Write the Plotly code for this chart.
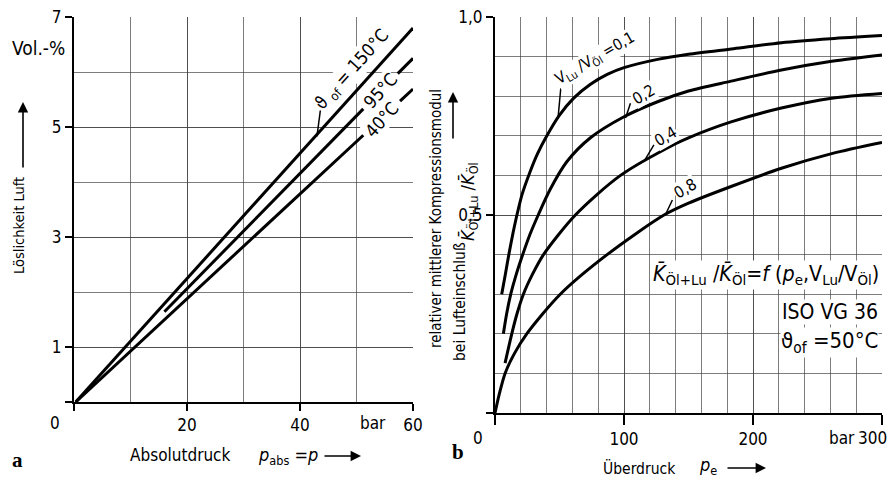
import plotly.graph_objects as go

W, H = 895, 481

# ---------------- data: panel a (solubility of air in oil) ----------------
p_abs_150 = [0.3, 60]
sol_150 = [0.0, 6.8]
p_abs_95 = [16, 51.2, None, 57.3, 60]
sol_95 = [1.64, 5.33, None, 5.97, 6.25]
p_abs_40 = [0.3, 51.2, None, 57.7, 60]
sol_40 = [0.0, 4.85, None, 5.47, 5.69]

xa_tickvals = [0, 20, 40, 60]
xa_ticktext = ["", "20", "40", "60"]
ya_tickvals = [0, 1, 3, 5, 7]
ya_ticktext = ["", "1", "3", "5", "7"]

# ---------------- data: panel b (relative bulk modulus) ----------------
pe_01 = [5.2, 8, 11, 14, 17, 21, 26.7, 33, 40.2, 50, 61, 74, 87, 100, 126, 150, 185, 222, 260, 300]
k_01 = [0.30, 0.35, 0.405, 0.455, 0.50, 0.552, 0.605, 0.655, 0.70, 0.752, 0.795, 0.83, 0.855,
        0.872, 0.893, 0.906, 0.920, 0.935, 0.945, 0.953]
pe_02 = [6.5, 9, 12.2, 16, 21.5, 27, 33.5, 42.8, 55.8, 74, 100, 126, 150, 183, 222, 261, 300]
k_02 = [0.20, 0.25, 0.30, 0.345, 0.40, 0.45, 0.50, 0.565, 0.635, 0.695, 0.748, 0.786, 0.813,
        0.838, 0.866, 0.888, 0.904]
pe_04 = [7.8, 13, 17, 22, 29, 37.6, 62.3, 97.3, 140, 150, 183, 222, 261, 300]
k_04 = [0.126, 0.20, 0.25, 0.30, 0.35, 0.40, 0.50, 0.60, 0.68, 0.695, 0.735, 0.77, 0.795, 0.807]
pe_08 = [0, 3.5, 7.8, 15, 24.6, 50.6, 86.9, 131, 150, 183, 222, 261, 300]
k_08 = [0, 0.05, 0.10, 0.15, 0.20, 0.30, 0.40, 0.50, 0.53, 0.572, 0.618, 0.655, 0.683]

xb_tickvals = [0, 100, 200, 300]
xb_ticktext = ["", "100", "200", ""]
yb_tickvals = [0, 0.5, 1.0]
yb_ticktext = ["", "0,5", "1,0"]

FONT = "DejaVu Sans Condensed, DejaVu Sans, sans-serif"
SERIF = "Liberation Serif, DejaVu Serif, serif"
GRID = "rgba(55,55,55,0.65)"
LW = 3
TICK = 17

fig = go.Figure()
for xs, ys in [(p_abs_150, sol_150), (p_abs_95, sol_95), (p_abs_40, sol_40)]:
    fig.add_trace(go.Scatter(x=xs, y=ys, mode="lines", xaxis="x", yaxis="y",
                             line=dict(color="black", width=LW), showlegend=False,
                             hoverinfo="skip", connectgaps=False))
for xs, ys in [(pe_01, k_01), (pe_02, k_02), (pe_04, k_04), (pe_08, k_08)]:
    fig.add_trace(go.Scatter(x=xs, y=ys, mode="lines", xaxis="x2", yaxis="y2",
                             line=dict(color="black", width=LW, shape="spline", smoothing=0.8),
                             showlegend=False, hoverinfo="skip"))


def axis_common():
    return dict(showline=True, linecolor="black", linewidth=2, ticks="outside",
                tickcolor="black", tickwidth=1.5, showgrid=True, gridcolor=GRID,
                gridwidth=1, zeroline=False, fixedrange=True, ticklabeloverflow="allow",
                tickfont=dict(family=FONT, size=TICK, color="black"))


xa = axis_common()
xa.update(domain=[74 / W, 413 / W], range=[0, 60], tickvals=xa_tickvals, ticktext=xa_ticktext,
          ticklen=7, anchor="y", minor=dict(dtick=10, showgrid=True, gridcolor=GRID, ticks=""))
ya = axis_common()
ya.update(domain=[1 - 402 / H, 1 - 17 / H], range=[0, 7], tickvals=ya_tickvals, ticktext=ya_ticktext,
          ticklen=7, anchor="x", minor=dict(dtick=1, showgrid=True, gridcolor=GRID, ticks=""))
xb = axis_common()
xb.update(domain=[495 / W, 882 / W], range=[0, 300], tickvals=xb_tickvals, ticktext=xb_ticktext,
          ticklen=10, anchor="y2", minor=dict(dtick=20, showgrid=True, gridcolor=GRID, ticks=""))
yb = axis_common()
yb.update(domain=[1 - 413 / H, 1 - 17 / H], range=[0, 1.0], tickvals=yb_tickvals, ticktext=yb_ticktext,
          ticklen=7, anchor="x2", minor=dict(dtick=0.1, showgrid=True, gridcolor=GRID, ticks=""))


def pa(x, y, text, size=17, family=FONT, xanchor="center", **kw):
    d = dict(x=x / W, y=1 - y / H, xref="paper", yref="paper", text=text, showarrow=False,
             xanchor=xanchor, yanchor="middle",
             font=dict(family=family, size=size, color="black"))
    d.update(kw)
    return d


def da(x, y, ax, text, angle, size=18):
    yref = "y" if ax == "x" else "y2"
    return dict(x=x, y=y, xref=ax, yref=yref, text=text, showarrow=False, textangle=angle,
                xanchor="center", yanchor="middle", bgcolor="white", borderpad=0,
                font=dict(family=FONT, size=size, color="black"))


def arrow(xh, yh, ax, ay):
    return dict(x=xh / W, y=1 - yh / H, xref="paper", yref="paper", text="", showarrow=True,
                ax=ax, ay=ay, arrowhead=2, arrowsize=1.3, arrowwidth=1.6, arrowcolor="black")


ann = [
    # panel a
    pa(38, 48, "Vol.-%", size=19),
    pa(55, 423, "0", size=TICK),
    pa(373, 423, "bar", size=TICK),
    pa(19, 226, "Löslichkeit Luft", size=14.5, textangle=-90),
    arrow(23, 102, 0, 67),
    pa(180, 455, "Absolutdruck", size=17),
    pa(256, 456, "<i>p</i><sub>abs</sub> =<i>p</i>", size=18, xanchor="left"),
    arrow(361, 456, -38, 0),
    pa(17, 460, "<b>a</b>", size=21, family=SERIF),
    da(49.2, 6.04, "x", "ϑ <sub>of</sub> = 150°C", -48),
    da(54.2, 5.67, "x", "95°C", -48),
    da(54.5, 5.13, "x", "40°C", -48),
    # panel b
    pa(478, 438, "0", size=TICK),
    pa(842, 438, "bar", size=TICK),
    pa(889, 438, "300", size=TICK, xanchor="right"),
    pa(436, 219, "relativer mittlerer Kompressionsmodul", size=15, textangle=-90),
    pa(460, 302, "bei Lufteinschluß", size=15.5, textangle=-90),
    pa(469, 201, "<i>K̄</i><sub>Öl+Lu</sub> /<i>K̄</i><sub>Öl</sub>", size=18, textangle=-90),
    arrow(453, 92, 0, 48),
    pa(639, 468, "Überdruck", size=15.5),
    pa(697, 466, "<i>p</i><sub>e</sub>", size=18, xanchor="left"),
    arrow(766, 468, -40, 0),
    pa(458, 452, "<b>b</b>", size=21, family=SERIF),
    pa(880, 275, "<i>K̄</i><sub>Öl+Lu</sub> /<i>K̄</i><sub>Öl</sub>=<i>f</i> (<i>p</i><sub>e</sub>,V<sub>Lu</sub>/V<sub>Öl</sub>)",
       size=21.3, xanchor="right", bgcolor="white", borderpad=0),
    pa(879, 312, "ISO VG 36", size=21, xanchor="right", bgcolor="white", borderpad=0),
    pa(879, 342, "ϑ<sub>of</sub> =50°C", size=22, xanchor="right", bgcolor="white", borderpad=0),
    da(77.5, 0.895, "x2", "V<sub>Lu</sub> /V<sub>Öl</sub> =0,1", -30, size=15.5),
    da(115.0, 0.805, "x2", "0,2", -30, size=16),
    da(132.0, 0.699, "x2", "0,4", -30, size=16),
    da(147.5, 0.566, "x2", "0,8", -30, size=16),
]

shapes = [
    dict(type="line", xref="x", yref="y", x0=43.6, y0=5.3, x1=43.0, y1=4.83, line=dict(color="black", width=1.5)),
    dict(type="line", xref="x2", yref="y2", x0=51, y0=0.82, x1=49, y1=0.75, line=dict(color="black", width=1.5)),
    dict(type="line", xref="x2", yref="y2", x0=105, y0=0.782, x1=101.2, y1=0.745, line=dict(color="black", width=1.5)),
    dict(type="line", xref="x2", yref="y2", x0=123.2, y0=0.677, x1=115.4, y1=0.635, line=dict(color="black", width=1.5)),
    dict(type="line", xref="x2", yref="y2", x0=137.5, y0=0.538, x1=132.3, y1=0.502, line=dict(color="black", width=1.5)),
]

fig.update_layout(
    width=W, height=H, margin=dict(l=0, r=0, t=0, b=0),
    paper_bgcolor="white", plot_bgcolor="white", template="none",
    xaxis=xa, yaxis=ya, xaxis2=xb, yaxis2=yb,
    annotations=ann, shapes=shapes, showlegend=False,
    font=dict(family=FONT, color="black"),
)

fig.write_html("out.html")
